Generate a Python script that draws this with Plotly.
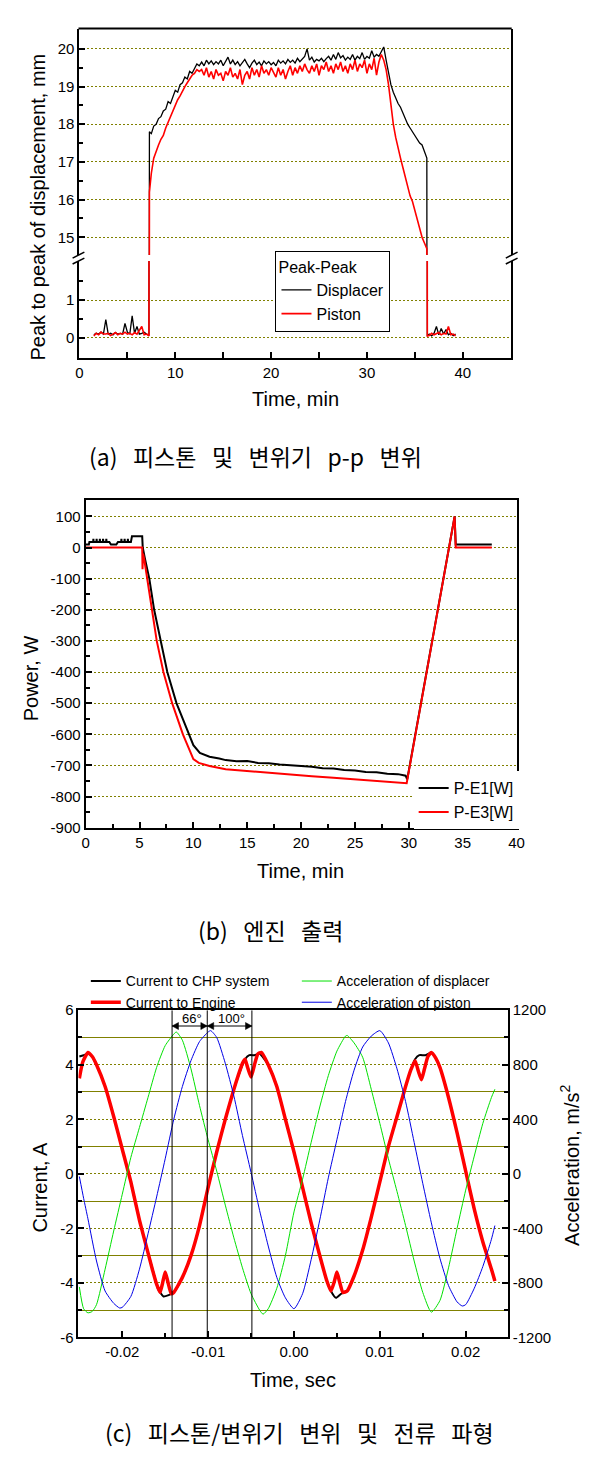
import plotly.graph_objects as go

W, H = 602, 1460


def fx(p):
    return p / W


def fy(p):
    return 1 - p / H


# ---------------- Panel (a): peak-to-peak displacement ----------------
t_a = [1.5, 1.75, 2.0, 2.25, 2.5, 2.75, 3.0, 3.25, 3.5, 3.75, 4.0, 4.25, 4.5, 4.75, 5.0, 5.25,
       5.5, 5.75, 6.0, 6.25, 6.5, 6.75, 7.0, 7.25,
       7.3,
       7.5, 7.75, 8.0, 8.25, 8.5, 8.75, 9.0, 9.25, 9.5, 9.75, 10.0, 10.25, 10.5, 10.75, 11.0,
       11.25, 11.5, 11.75, 12.0, 12.25, 12.5,
       12.75, 13.0, 13.25, 13.5, 13.75, 14.0, 14.25, 14.5, 14.75, 15.0, 15.25, 15.5, 15.75,
       16.0, 16.25, 16.5, 16.75, 17.0, 17.25, 17.5, 17.75, 18.0, 18.25, 18.5, 18.75, 19.0,
       19.25, 19.5, 19.75, 20.0, 20.25, 20.5, 20.75, 21.0, 21.25, 21.5, 21.75, 22.0, 22.25,
       22.5, 22.75, 23.0, 23.25, 23.5, 23.75, 24.0, 24.25, 24.5, 24.75, 25.0, 25.25, 25.5,
       25.75, 26.0, 26.25, 26.5, 26.75, 27.0, 27.25, 27.5, 27.75, 28.0, 28.25, 28.5, 28.75,
       29.0, 29.25, 29.5, 29.75, 30.0, 30.25, 30.5, 30.75, 31.0, 31.25, 31.5,
       31.75, 32.0, 32.25, 32.5, 32.75, 33.0, 33.25, 33.5, 33.75, 34.0, 34.25, 34.5, 34.75,
       35.0, 35.25, 35.5, 35.75, 36.0, 36.25,
       36.3,
       36.5, 36.75, 37.0, 37.25, 37.5, 37.75, 38.0, 38.25, 38.5, 38.75, 39.0, 39.25]

displacer_pp = [0.08, 0.12, 0.1, 0.15, 0.1, 0.48, 0.1, 0.12, 0.08, 0.14, 0.1, 0.12, 0.1, 0.38,
                0.15, 0.1, 0.58, 0.12, 0.3, 0.1, 0.12, 0.15, 0.1, 0.08,
                17.8,
                17.75, 17.95, 18.0, 18.15, 18.2, 18.35, 18.4, 18.6, 18.55, 18.75, 18.9, 18.85,
                19.05, 19.1, 19.25, 19.2, 19.4, 19.35, 19.5, 19.6, 19.55,
                19.65,
                19.55, 19.7, 19.6, 19.68,
                19.58, 19.66, 19.6, 19.7,
                19.55, 19.65, 19.78, 19.6,
                19.7, 19.58, 19.66, 19.55,
                19.65, 19.72, 19.6, 19.5,
                19.62, 19.7, 19.58, 19.65,
                19.55, 19.68, 19.6, 19.66,
                19.58, 19.64, 19.55, 19.7,
                19.62, 19.68, 19.6, 19.72,
                19.64, 19.7, 19.62, 19.75,
                19.66, 19.72, 19.8, 20.0,
                19.7, 19.78, 19.65, 19.72,
                19.68, 19.75, 19.66, 19.74,
                19.8, 19.7, 19.85, 19.72,
                19.9, 19.76, 19.82, 19.7,
                19.78, 19.72, 19.85, 19.7,
                19.8, 19.74, 19.9, 19.72,
                19.8, 19.75, 19.95, 19.78,
                19.85, 19.8, 19.92,
                20.05, 19.7, 19.4, 19.05, 18.85, 18.7, 18.55, 18.45, 18.3, 18.2, 18.0, 17.9,
                17.8, 17.7, 17.6, 17.5, 17.45, 17.3, 17.1,
                0.05,
                0.1, 0.05, 0.12, 0.3, 0.08, 0.25, 0.1, 0.22, 0.08, 0.12, 0.06, 0.1]

piston_pp = [0.05, 0.12, 0.08, 0.15, 0.1, 0.1, 0.12, 0.06, 0.1, 0.14, 0.08, 0.12, 0.1, 0.15,
             0.1, 0.12, 0.08, 0.14, 0.1, 0.2, 0.3, 0.08, 0.1, 0.05,
             16.2,
             16.7, 17.1, 17.3, 17.45, 17.6, 17.7, 17.9, 18.05, 18.2, 18.35, 18.5, 18.65, 18.75,
             18.9, 19.0, 19.1, 19.2, 19.3, 19.35, 19.45, 19.4,
             19.45,
             19.3, 19.5, 19.25, 19.4,
             19.2, 19.45, 19.3, 19.35,
             19.15, 19.4, 19.3, 19.5,
             19.25, 19.35, 19.2, 19.45,
             19.05, 19.3, 19.4, 19.2,
             19.5, 19.3, 19.45, 19.25,
             19.55, 19.35, 19.45, 19.3,
             19.5, 19.35, 19.25, 19.5,
             19.3, 19.45, 19.2, 19.4,
             19.55, 19.3, 19.5, 19.35,
             19.55, 19.4, 19.6, 19.45,
             19.35, 19.55, 19.4, 19.6,
             19.3, 19.55, 19.45, 19.65,
             19.4, 19.55, 19.35, 19.6,
             19.45, 19.65, 19.4, 19.55,
             19.35, 19.6, 19.45, 19.7,
             19.4, 19.6, 19.5, 19.7,
             19.35, 19.6, 19.45, 19.75,
             19.3, 19.65, 19.85,
             19.7, 19.45, 19.05, 18.5, 18.0, 17.65, 17.35, 17.1, 16.85, 16.6, 16.4, 16.1,
             15.95, 15.7, 15.45, 15.25, 15.0, 14.85, 14.7,
             0.05,
             0.06, 0.12, 0.08, 0.1, 0.14, 0.08, 0.12, 0.1, 0.3, 0.08, 0.1, 0.05]

assert len(t_a) == len(displacer_pp) == len(piston_pp), (len(t_a), len(displacer_pp), len(piston_pp))

# ---------------- Panel (b): engine power ----------------
t_pe1 = [0.0, 0.3, 0.35, 0.7, 0.72, 0.74, 1.0, 1.02, 1.04, 1.3, 1.32, 1.34, 1.6, 1.62, 1.64,
         1.9, 1.92, 1.94, 2.2, 2.35, 2.85, 3.0, 3.3, 3.32, 3.34, 3.6, 3.62, 3.64, 3.9, 3.92,
         3.94, 4.2, 4.22, 4.24, 4.3, 5.25, 5.3, 5.5, 5.91, 6.36, 6.97, 7.58, 8.43, 9.55, 10.0,
         10.6, 11.5, 12.4, 13.0, 14.0, 15.0, 16.0, 17.0, 18.0, 19.0, 20.0, 21.0, 22.0, 23.0,
         24.0, 25.0, 26.0, 27.0, 28.0, 29.0, 29.7, 29.85, 34.25, 34.35, 37.7]
p_e1 = [10, 10, 18, 18, 28, 18, 18, 28, 18, 18, 28, 18, 18, 28, 18,
        18, 28, 18, 18, 10, 10, 18, 18, 28, 18, 18, 28, 18, 18, 28,
        18, 18, 28, 18, 36, 36, 0, -35, -100, -200, -300, -400, -500, -600, -635,
        -660, -672, -678, -683, -687, -686, -692, -693, -697, -699, -703, -704, -709, -710,
        -715, -716, -721, -722, -727, -728, -733, -745, 100, 10, 10]

t_pe3 = [0.0, 5.25, 5.28, 5.33, 5.45, 5.7, 6.12, 6.6, 7.22, 8.03, 9.03, 9.6, 10.0, 10.5, 11.5,
         13.0, 15.0, 17.0, 19.0, 21.0, 23.0, 25.0, 27.0, 28.5, 29.8, 34.25, 34.35, 37.7]
p_e3 = [0, 0, -70, -20, -40, -100, -200, -300, -400, -500, -600, -650, -680, -692, -702,
        -712, -718, -725, -730, -735, -740, -745, -750, -752, -757, 100, 0, 0]

assert len(t_pe1) == len(p_e1), (len(t_pe1), len(p_e1))
assert len(t_pe3) == len(p_e3), (len(t_pe3), len(p_e3))

# ---------------- Panel (c): current and acceleration waveforms ----------------
t_chp = [-0.025, -0.0245, -0.024, -0.0235, -0.023, -0.022, -0.021, -0.020, -0.019, -0.018,
         -0.017, -0.0163, -0.0158, -0.0152, -0.0146, -0.014, -0.013, -0.012, -0.011, -0.010,
         -0.009, -0.008, -0.007, -0.0063, -0.0057, -0.0052, -0.0046, -0.004, -0.003, -0.002,
         -0.001, 0.000, 0.001, 0.002, 0.003, 0.0038, 0.0043, 0.0049, 0.0055, 0.0062, 0.007,
         0.008, 0.009, 0.010, 0.011, 0.012, 0.013, 0.0136, 0.0141, 0.0146, 0.0153, 0.016,
         0.0165, 0.017, 0.018, 0.019, 0.020, 0.021, 0.022, 0.023, 0.0234]
i_chp = [4.3, 4.35, 4.4, 4.3, 4.0, 3.2, 2.1, 0.9, -0.3, -1.7,
         -2.9, -3.7, -4.25, -4.5, -4.45, -4.35, -3.8, -3.0, -1.9, -0.5,
         0.8, 2.0, 3.1, 3.75, 4.2, 4.35, 4.35, 4.4, 4.0, 3.2,
         2.0, 0.8, -0.5, -1.8, -3.0, -3.9, -4.3, -4.55, -4.4, -4.3, -3.75,
         -2.8, -1.6, -0.3, 1.0, 2.1, 3.2, 3.8, 4.2, 4.35, 4.35, 4.45,
         4.25, 3.9, 2.8, 1.5, 0.1, -1.3, -2.5, -3.5, -3.93]

t_eng = [-0.025, -0.0246, -0.024, -0.0235, -0.023, -0.022, -0.021, -0.020, -0.019, -0.018,
         -0.017, -0.0165, -0.016, -0.0156, -0.0153, -0.015, -0.0147, -0.0143, -0.014, -0.013,
         -0.012, -0.011, -0.010, -0.009, -0.008, -0.007, -0.0065, -0.006, -0.0057, -0.0054,
         -0.005, -0.0046, -0.0042, -0.0038, -0.003, -0.002, -0.001, 0.000, 0.001, 0.002,
         0.003, 0.0038, 0.0043, 0.0047, 0.005, 0.0053, 0.0057, 0.0062, 0.007, 0.008, 0.009,
         0.010, 0.011, 0.012, 0.013, 0.0136, 0.0141, 0.0145, 0.01485, 0.0152, 0.0156, 0.016,
         0.0165, 0.017, 0.018, 0.019, 0.020, 0.021, 0.022, 0.023, 0.0234]
i_eng = [3.5, 4.1, 4.45, 4.3, 4.0, 3.2, 2.1, 0.9, -0.3, -1.7,
         -2.9, -3.5, -4.05, -4.35, -4.0, -3.6, -3.95, -4.4, -4.35, -3.8,
         -3.0, -1.9, -0.5, 0.8, 2.0, 3.1, 3.6, 4.05, 4.2, 3.9,
         3.55, 4.0, 4.4, 4.45, 4.0, 3.2, 2.0, 0.8, -0.5, -1.8,
         -3.0, -3.9, -4.3, -3.95, -3.6, -3.95, -4.35, -4.3, -3.75, -2.8, -1.6,
         -0.3, 1.0, 2.1, 3.2, 3.8, 4.15, 3.75, 3.45, 3.85, 4.3, 4.45,
         4.25, 3.9, 2.8, 1.5, 0.1, -1.3, -2.5, -3.5, -3.93]

t_acc_disp = [-0.025, -0.0245, -0.024, -0.0235, -0.023, -0.022, -0.021, -0.020, -0.019,
              -0.018, -0.017, -0.016, -0.015, -0.014, -0.0137, -0.013, -0.012, -0.011,
              -0.010, -0.009, -0.008, -0.007, -0.006, -0.005, -0.004, -0.0036, -0.003,
              -0.002, -0.001, 0.000, 0.001, 0.002, 0.003, 0.004, 0.005, 0.006, 0.0062,
              0.007, 0.008, 0.009, 0.010, 0.011, 0.012, 0.013, 0.014, 0.015, 0.016, 0.017,
              0.018, 0.019, 0.020, 0.021, 0.022, 0.023, 0.0234]
acc_disp = [-830, -990, -1020, -1010, -960, -700, -420, -150, 120,
            340, 560, 780, 940, 1025, 1040, 980, 770, 500,
            250, 20, -230, -470, -690, -880, -1000, -1030, -990,
            -840, -600, -280, -40, 230, 490, 720, 900, 1010, 1015,
            960, 855, 620, 370, 110, -130, -380, -640, -870, -1015, -930,
            -690, -400, -120, 130, 370, 560, 620]

t_acc_pist = [-0.025, -0.0245, -0.024, -0.023, -0.022, -0.021, -0.0203, -0.020, -0.019,
              -0.018, -0.017, -0.016, -0.015, -0.014, -0.013, -0.012, -0.011, -0.010,
              -0.0097, -0.009, -0.008, -0.007, -0.006, -0.005, -0.004, -0.003, -0.002,
              -0.001, 0.000, 0.001, 0.002, 0.003, 0.004, 0.005, 0.006, 0.007, 0.008, 0.009,
              0.010, 0.011, 0.012, 0.013, 0.014, 0.015, 0.016, 0.017, 0.018, 0.019, 0.0196,
              0.020, 0.021, 0.022, 0.023, 0.0234]
acc_pist = [-20, -180, -330, -640, -860, -950, -985, -980, -900,
            -700, -440, -170, 110, 400, 640, 830, 970, 1040,
            1050, 1000, 810, 570, 280, 10, -270, -530, -760,
            -910, -990, -880, -630, -340, -30, 250, 530, 760, 930, 1010,
            1050, 960, 770, 530, 230, -70, -360, -620, -820, -940, -970,
            -960, -840, -680, -480, -380]

assert len(t_chp) == len(i_chp), (len(t_chp), len(i_chp))
assert len(t_eng) == len(i_eng), (len(t_eng), len(i_eng))
assert len(t_acc_disp) == len(acc_disp), (len(t_acc_disp), len(acc_disp))
assert len(t_acc_pist) == len(acc_pist), (len(t_acc_pist), len(acc_pist))

phase_times = [-0.0142, -0.0101, -0.0049]
phase_labels = ["66°", "100°"]

# ---------------- Tick labels ----------------
a_xticks = [0, 10, 20, 30, 40]
a_yticks_low = [0, 1]
a_yticks_up = [15, 16, 17, 18, 19, 20]
b_xticks = [0, 5, 10, 15, 20, 25, 30, 35, 40]
b_yticks = [-900, -800, -700, -600, -500, -400, -300, -200, -100, 0, 100]
c_xticks = [-0.02, -0.01, 0.0, 0.01, 0.02]
c_xtext = ["-0.02", "-0.01", "0.00", "0.01", "0.02"]
c_yticks = [-6, -4, -2, 0, 2, 4, 6]
c_y2ticks = [-1200, -800, -400, 0, 400, 800, 1200]

# ---------------- Styles ----------------
FONT = "Liberation Sans, Arial, sans-serif"
KFONT = "Noto Sans CJK KR, sans-serif"
BLACK = "#000000"
RED = "#ff0000"
GREEN = "#00e000"
BLUE = "#0000e6"
GRID = "#808000"
DOT = "2px,2px"
SP = "\u00a0\u00a0\u00a0"


def lab(v):
    return [str(x) for x in v]


def ax(**kw):
    base = dict(showline=True, linecolor="black", linewidth=2, mirror=True,
                ticks="inside", tickcolor="black", tickwidth=2, ticklen=6,
                tickfont=dict(size=15, family=FONT, color="black"),
                zeroline=False, showgrid=False, fixedrange=True, tickmode="array")
    base.update(kw)
    return base


def minor(vals, grid=False, **kw):
    d = dict(tickmode="array", tickvals=vals, ticks="inside", ticklen=4,
             tickwidth=2, tickcolor="black", showgrid=grid)
    d.update(kw)
    return d


fig = go.Figure()

# Panel (a) traces: drawn on both halves of the broken axis
for yref, show in (("y", False), ("y2", True)):
    fig.add_trace(go.Scatter(x=t_a, y=displacer_pp, mode="lines", name="Displacer",
                             line=dict(color=BLACK, width=1.3), xaxis="x", yaxis=yref,
                             showlegend=show, legend="legend"))
for yref, show in (("y", False), ("y2", True)):
    fig.add_trace(go.Scatter(x=t_a, y=piston_pp, mode="lines", name="Piston",
                             line=dict(color=RED, width=1.6), xaxis="x", yaxis=yref,
                             showlegend=show, legend="legend"))

# Panel (b)
fig.add_trace(go.Scatter(x=t_pe1, y=p_e1, mode="lines", name="P-E1[W]",
                         line=dict(color=BLACK, width=2), xaxis="x2", yaxis="y3",
                         legend="legend2"))
fig.add_trace(go.Scatter(x=t_pe3, y=p_e3, mode="lines", name="P-E3[W]",
                         line=dict(color=RED, width=2), xaxis="x2", yaxis="y3",
                         legend="legend2"))

# Panel (c)
fig.add_trace(go.Scatter(x=t_acc_disp, y=acc_disp, mode="lines", name="Acceleration of displacer",
                         line=dict(color=GREEN, width=1, shape="spline", smoothing=0.6),
                         xaxis="x3", yaxis="y5", legend="legend3", legendrank=2))
fig.add_trace(go.Scatter(x=t_acc_pist, y=acc_pist, mode="lines", name="Acceleration of piston",
                         line=dict(color=BLUE, width=1, shape="spline", smoothing=0.6),
                         xaxis="x3", yaxis="y5", legend="legend3", legendrank=4))
fig.add_trace(go.Scatter(x=t_chp, y=i_chp, mode="lines", name="Current to CHP system",
                         line=dict(color=BLACK, width=2, shape="spline", smoothing=0.5),
                         xaxis="x3", yaxis="y4", legend="legend3", legendrank=1))
fig.add_trace(go.Scatter(x=t_eng, y=i_eng, mode="lines", name="Current to Engine",
                         line=dict(color=RED, width=3.5, shape="spline", smoothing=0.5),
                         xaxis="x3", yaxis="y4", legend="legend3", legendrank=3))

# ---------------- Axes ----------------
A_L, A_R, A_T, A_B = 77, 517, 20.7, 352.7
A_UP_BOT, A_LO_TOP = 249, 255
B_L, B_R, B_T, B_B = 83.3, 523, 496.7, 828.3
C_L, C_R, C_T, C_B = 76, 514, 1013, 1344

layout = dict(
    width=W, height=H, margin=dict(l=0, r=0, t=0, b=0),
    paper_bgcolor="white", plot_bgcolor="white",
    font=dict(family=FONT, color="black", size=15),
    hovermode=False,
    xaxis=ax(domain=[fx(A_L), fx(A_R)], anchor="y", range=[0, 45], mirror=False,
             tickvals=a_xticks, ticktext=lab(a_xticks),
             minor=minor([5, 15, 25, 35], ticklen=6)),
    yaxis=ax(domain=[fy(A_B), fy(A_LO_TOP)], anchor="x", range=[-0.523, 2.034],
             tickvals=a_yticks_low, ticktext=lab(a_yticks_low),
             showgrid=True, gridcolor=GRID, griddash=DOT, gridwidth=1,
             minor=minor([0.5, 1.5])),
    yaxis2=ax(domain=[fy(A_UP_BOT), fy(A_T)], anchor="x", range=[14.528, 20.514],
              tickvals=a_yticks_up, ticktext=lab(a_yticks_up),
              showgrid=True, gridcolor=GRID, griddash=DOT, gridwidth=1,
              minor=minor([15.5, 16.5, 17.5, 18.5, 19.5])),
    xaxis2=ax(domain=[fx(B_L), fx(B_R)], anchor="y3", range=[0, 40],
              tickvals=b_xticks, ticktext=lab(b_xticks),
              minor=minor([2.5, 7.5, 12.5, 17.5, 22.5, 27.5, 32.5, 37.5])),
    yaxis3=ax(domain=[fy(B_B), fy(B_T)], anchor="x2", range=[-900, 153],
              tickvals=b_yticks, ticktext=lab(b_yticks),
              showgrid=True, gridcolor=GRID, griddash=DOT, gridwidth=1,
              minor=minor([-850, -750, -650, -550, -450, -350, -250, -150, -50, 50])),
    xaxis3=ax(domain=[fx(C_L), fx(C_R)], anchor="y4", range=[-0.0251, 0.0249],
              tickvals=c_xticks, ticktext=c_xtext,
              minor=minor([-0.015, -0.005, 0.005, 0.015])),
    yaxis4=ax(domain=[fy(C_B), fy(C_T)], anchor="x3", range=[-6, 6],
              tickvals=c_yticks, ticktext=lab(c_yticks),
              showgrid=True, gridcolor=GRID, griddash=DOT, gridwidth=1,
              minor=minor([-5, -3, -1, 1, 3, 5], grid=True, gridcolor=GRID,
                          griddash="solid", gridwidth=1)),
    yaxis5=ax(domain=[fy(C_B), fy(C_T)], anchor="x3", overlaying="y4", side="right",
              range=[-1200, 1200], tickvals=c_y2ticks, ticktext=lab(c_y2ticks),
              minor=minor([-1000, -600, -200, 200, 600, 1000])),
    legend=dict(x=fx(277), y=fy(286), xanchor="left", yanchor="middle",
                bgcolor="white", bordercolor="black", borderwidth=1,
                font=dict(size=16, family=FONT), title=dict(text="Peak-Peak",
                                                             font=dict(size=16, family=FONT)),
                traceorder="normal"),
    legend2=dict(x=fx(418), y=fy(800.5), xanchor="left", yanchor="middle",
                 bgcolor="white", borderwidth=0, font=dict(size=16, family=FONT),
                 traceorder="normal"),
    legend3=dict(x=fx(83.5), y=fy(994.5), xanchor="left", yanchor="middle",
                 orientation="h", entrywidth=166, entrywidthmode="pixels",
                 bgcolor="rgba(0,0,0,0)", borderwidth=0, font=dict(size=14, family=FONT)),
    showlegend=True,
)

shapes = []
# top frame line of panel (a)
shapes.append(dict(type="line", xref="paper", yref="paper", x0=fx(A_L - 1), x1=fx(A_R + 1),
                   y0=fy(A_T - 1), y1=fy(A_T - 1), line=dict(color="black", width=2)))
# axis-break marks on both sides of panel (a)
for xb in (A_L - 1, A_R + 1):
    for yb in (A_UP_BOT, A_LO_TOP):
        shapes.append(dict(type="line", xref="paper", yref="paper",
                           x0=fx(xb - 6), y0=fy(yb + 3), x1=fx(xb + 6), y1=fy(yb - 3),
                           line=dict(color="black", width=1.5)))
# phase reference lines in panel (c)
for tp in phase_times:
    shapes.append(dict(type="line", xref="x3", yref="y4", x0=tp, x1=tp, y0=-6, y1=6,
                       line=dict(color="black", width=1)))
# double-headed phase arrows (shaft + filled heads)
ARROW_Y, HEAD_DX, HEAD_DY = 5.42, 0.00075, 0.13
for i in range(2):
    xa, xb = phase_times[i], phase_times[i + 1]
    shapes.append(dict(type="line", xref="x3", yref="y4", x0=xa, x1=xb, y0=ARROW_Y, y1=ARROW_Y,
                       line=dict(color="black", width=1)))
    shapes.append(dict(type="path", xref="x3", yref="y4", fillcolor="black",
                       line=dict(color="black", width=0.5),
                       path=f"M{xa},{ARROW_Y} L{xa + HEAD_DX},{ARROW_Y + HEAD_DY} "
                            f"L{xa + HEAD_DX},{ARROW_Y - HEAD_DY} Z"))
    shapes.append(dict(type="path", xref="x3", yref="y4", fillcolor="black",
                       line=dict(color="black", width=0.5),
                       path=f"M{xb},{ARROW_Y} L{xb - HEAD_DX},{ARROW_Y + HEAD_DY} "
                            f"L{xb - HEAD_DX},{ARROW_Y - HEAD_DY} Z"))
layout["shapes"] = shapes

ann = []


def text(x, y, s, size, angle=0, family=FONT, **kw):
    d = dict(x=x, y=y, xref="paper", yref="paper", text=s, showarrow=False,
             font=dict(size=size, family=family, color="black"), textangle=angle,
             xanchor="center", yanchor="middle")
    d.update(kw)
    ann.append(d)


# axis titles
text(fx(297), fy(395), "Time, min", 20)
text(fx(34.6), fy(200), "Peak to peak of displacement, mm", 20, angle=-90)
text(fx(303), fy(871.7), "Time, min", 20)
text(fx(27), fy(676.7), "Power, W", 20, angle=-90)
text(fx(295), fy(1386.7), "Time, sec", 20)
text(fx(36.5), fy(1191.7), "Current, A", 20, angle=-90)
text(fx(577), fy(1170), "Acceleration, m/s<sup>2</sup>", 20, angle=-90)

# captions
text(fx(256.5), fy(452), SP.join(["(a)", "피스톤", "및", "변위기", "p-p", "변위"]), 23, family=KFONT)
text(fx(271.5), fy(932), SP.join(["(b)", "엔진", "출력"]), 23, family=KFONT)
text(fx(301.5), fy(1440), SP.join(["(c)", "피스톤/변위기", "변위", "및", "전류", "파형"]), 23,
     family=KFONT)

# phase labels
label_x = [-0.0119, -0.0073]
for i in range(2):
    ann.append(dict(x=label_x[i], y=5.71, xref="x3", yref="y4", text=phase_labels[i],
                    showarrow=False, font=dict(size=13, family=FONT, color="black"),
                    xanchor="center", yanchor="middle"))

layout["annotations"] = ann
fig.update_layout(**layout)

fig.write_html("out.html", config={"displayModeBar": False, "staticPlot": True})
